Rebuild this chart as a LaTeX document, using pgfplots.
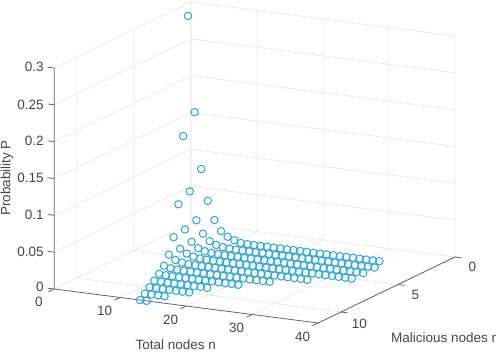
\documentclass[border=0pt]{standalone}
\usepackage{pgfplots}
\usepackage{fontspec}
\setmainfont{Liberation Sans}
\pgfplotsset{compat=1.18}
\definecolor{mk}{RGB}{40,165,220}
\definecolor{ax}{RGB}{100,100,100}
\definecolor{tx}{RGB}{70,70,70}
\definecolor{gr}{RGB}{232,232,232}
\pgfplotstableread[row sep=\\]{
n r p\\
3 2 .2994\\ 4 2 .170\\ 5 2 .094\\ 6 2 .052\\ 7 2 .027\\ 8 2 .013\\ 9 2 .0067\\ 10 2 .003\\ 11 2 .0005\\ 12 2 0\\
13 2 0\\ 14 2 0\\ 15 2 0\\ 16 2 0\\ 17 2 0\\ 18 2 0\\ 19 2 0\\ 20 2 0\\ 21 2 0\\ 22 2 0\\
23 2 0\\ 24 2 0\\ 25 2 0\\ 26 2 0\\ 27 2 0\\ 28 2 0\\ 29 2 0\\ 30 2 0\\ 31 2 0\\ 32 2 0\\
4 3 .145\\ 5 3 .071\\ 6 3 .033\\ 7 3 .016\\ 8 3 .007\\ 9 3 .003\\ 10 3 .0012\\ 11 3 .0004\\ 12 3 0\\ 13 3 0\\
14 3 0\\ 15 3 0\\ 16 3 0\\ 17 3 0\\ 18 3 0\\ 19 3 0\\ 20 3 0\\ 21 3 0\\ 22 3 0\\ 23 3 0\\
24 3 0\\ 25 3 0\\ 26 3 0\\ 27 3 0\\ 28 3 0\\ 29 3 0\\ 30 3 0\\ 31 3 0\\ 32 3 0\\ 33 3 0\\
5 4 .061\\ 6 4 .028\\ 7 4 .0125\\ 8 4 .005\\ 9 4 .002\\ 10 4 .0008\\ 11 4 .0003\\ 12 4 0\\ 13 4 0\\ 14 4 0\\
15 4 0\\ 16 4 0\\ 17 4 0\\ 18 4 0\\ 19 4 0\\ 20 4 0\\ 21 4 0\\ 22 4 0\\ 23 4 0\\ 24 4 0\\
25 4 0\\ 26 4 0\\ 27 4 0\\ 28 4 0\\ 29 4 0\\ 30 4 0\\ 31 4 0\\ 32 4 0\\ 33 4 0\\
6 5 .025\\ 7 5 .0105\\ 8 5 .005\\ 9 5 .002\\ 10 5 .0007\\ 11 5 .0002\\ 12 5 0\\ 13 5 0\\ 14 5 0\\ 15 5 0\\
16 5 0\\ 17 5 0\\ 18 5 0\\ 19 5 0\\ 20 5 0\\ 21 5 0\\ 22 5 0\\ 23 5 0\\ 24 5 0\\ 25 5 0\\
26 5 0\\ 27 5 0\\ 28 5 0\\ 29 5 0\\ 30 5 0\\ 31 5 0\\ 32 5 0\\ 33 5 0\\
7 6 .0099\\ 8 6 .0038\\ 9 6 .0015\\ 10 6 .0005\\ 11 6 .0002\\ 12 6 0\\ 13 6 0\\ 14 6 0\\ 15 6 0\\ 16 6 0\\ 17 6 0\\
18 6 0\\ 19 6 0\\ 20 6 0\\ 21 6 0\\ 22 6 0\\ 23 6 0\\ 24 6 0\\ 25 6 0\\ 26 6 0\\ 27 6 0\\ 28 6 0\\
8 7 .0035\\ 9 7 .0013\\ 10 7 .0005\\ 11 7 .0002\\ 12 7 0\\ 13 7 0\\ 14 7 0\\ 15 7 0\\ 16 7 0\\ 17 7 0\\ 18 7 0\\
19 7 0\\ 20 7 0\\ 21 7 0\\ 22 7 0\\ 23 7 0\\ 24 7 0\\
9 8 .0012\\ 10 8 .0004\\ 11 8 .0001\\ 12 8 0\\ 13 8 0\\ 14 8 0\\ 15 8 0\\ 16 8 0\\ 17 8 0\\ 18 8 0\\ 19 8 0\\ 20 8 0\\ 21 8 0\\
10 9 .0004\\ 11 9 .0001\\ 12 9 0\\ 13 9 0\\ 14 9 0\\ 15 9 0\\ 16 9 0\\ 17 9 0\\ 18 9 0\\
11 10 .0001\\ 12 10 0\\ 13 10 0\\ 14 10 0\\ 15 10 0\\ 16 10 0\\ 17 10 0\\
12 11 0\\ 13 11 0\\ 14 11 0\\ 15 11 0\\
13 12 0\\ 14 12 0\\
}\pts
\begin{document}
\begin{tikzpicture}
\useasboundingbox (-191pt,-129pt) rectangle (307pt,223pt);
\begin{axis}[
  at={(0pt,0pt)}, anchor=origin,
  x={(6.6pt,-0.85pt)}, y={(-11.4pt,-5.5pt)}, z={(0pt,736.7pt)},
  xmin=0,xmax=40,ymin=0,ymax=12,zmin=0,zmax=0.3,
  xtick={0,10,20,30,40}, ytick={0,5,10}, ztick={0,0.05,0.1,0.15,0.2,0.25,0.3},
  scaled z ticks=false,
  ticklabel style={font=\fontsize{13.5}{16}\selectfont,text=tx},
  xticklabel style={xshift=-10pt,yshift=-4.5pt},
  yticklabel style={xshift=10pt,yshift=-2pt},
  zticklabel style={xshift=-7pt,yshift=3pt},
  /pgf/number format/fixed, /pgf/number format/precision=2,
  /pgf/number format/assume math mode=true,
  axis line style={draw=none}, tick style={draw=none},
  clip=false,
  xlabel={Total nodes n}, ylabel={Malicious nodes r}, zlabel={Probability P},
  every axis x label/.style={at={(axis cs:28.45,17.8,0)},anchor=center,font=\fontsize{13.5}{16}\selectfont,text=tx},
  every axis y label/.style={at={(axis cs:58.6,11.76,0)},anchor=center,font=\fontsize{13.5}{16}\selectfont,text=tx},
  every axis z label/.style={at={(axis cs:-27.9,0,0.0289)},anchor=center,rotate=90,font=\fontsize{13.5}{16}\selectfont,text=tx},
]
% grid on the three back planes
\pgfplotsinvokeforeach{0,10,20,30,40}{
  \draw[gr,line width=0.8pt] (axis cs:#1,12,0)--(axis cs:#1,0,0)--(axis cs:#1,0,0.3);
}
\pgfplotsinvokeforeach{0,5,10}{
  \draw[gr,line width=0.8pt] (axis cs:40,#1,0)--(axis cs:0,#1,0)--(axis cs:0,#1,0.3);
}
\pgfplotsinvokeforeach{0.05,0.1,0.15,0.2,0.25,0.3}{
  \draw[gr,line width=0.8pt] (axis cs:0,12,#1)--(axis cs:0,0,#1)--(axis cs:40,0,#1);
}
\draw[ax,line width=0.8pt] (axis cs:0,12,0.3)--(axis cs:0,12,0)--(axis cs:40,12,0)--(axis cs:40,0,0);
% ticks
\pgfplotsinvokeforeach{0,10,20,30,40}{
  \draw[ax,line width=0.8pt] (axis cs:#1,12,0)--(axis cs:#1,12.5,0);
}
\pgfplotsinvokeforeach{0,5,10}{
  \draw[ax,line width=0.8pt] (axis cs:40,#1,0)--(axis cs:41,#1,0);
}
\pgfplotsinvokeforeach{0,0.05,0.1,0.15,0.2,0.25,0.3}{
  \draw[ax,line width=0.8pt] (axis cs:0,12,#1)--(axis cs:-1,12,#1);
}
\addplot3[only marks,mark=o,mark size=3.7pt,mark options={mk,line width=1pt,fill=none}] table[x=n,y=r,z=p] {\pts};
\end{axis}
\end{tikzpicture}
\end{document}
